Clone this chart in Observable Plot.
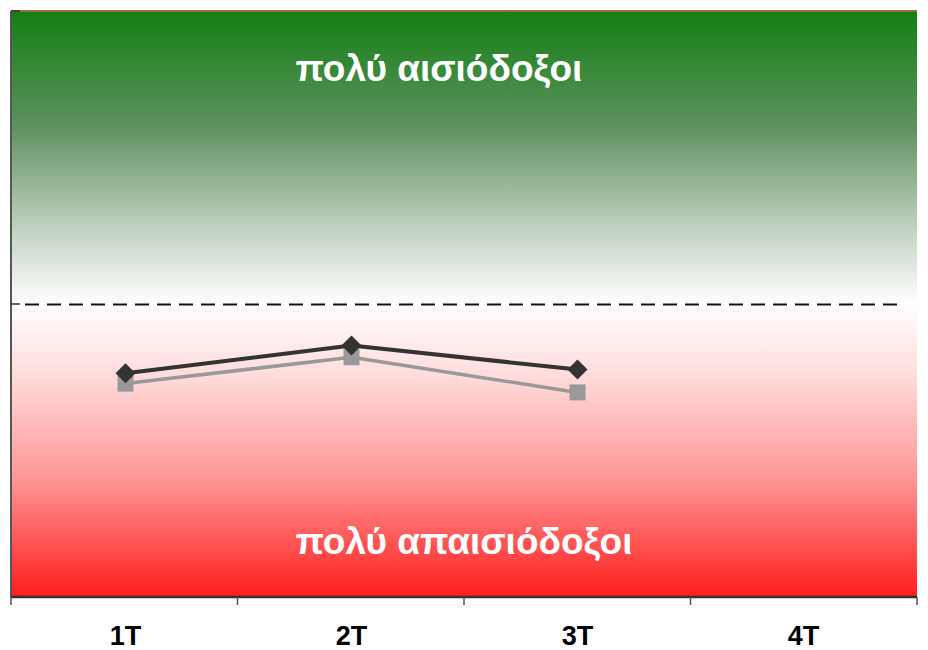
<!DOCTYPE html>
<html>
<head>
<meta charset="utf-8">
<script src="https://cdn.jsdelivr.net/npm/d3@7"></script>
<script src="https://cdn.jsdelivr.net/npm/@observablehq/plot@0.6"></script>
<style>
  html, body { margin: 0; padding: 0; background: #fff; }
  #chart { width: 928px; height: 650px; }
</style>
</head>
<body>
<div id="chart"></div>
<script>
// Categories (quarters)
const quarters = ["1T", "2T", "3T", "4T"];
// Series values (balance index)
const seriesA = [-23.5, -14, -22.2];   // dark line, diamonds
const seriesB = [-27, -18, -30];        // gray line, squares
const yTicks = [-100, 0, 100];
const topLabel = "πολύ αισιόδοξοι";
const bottomLabel = "πολύ απαισιόδοξοι";

const rowsA = seriesA.map((v, i) => ({q: quarters[i], v}));
const rowsB = seriesB.map((v, i) => ({q: quarters[i], v}));

function findArgs(args) {
  const dims = args.find(a => a && typeof a === "object" && a.marginLeft !== undefined && a.width !== undefined);
  const scales = args.find(a => a && typeof a === "object" && typeof a.y === "function");
  return {dims, scales};
}

// Background gradient
function background(...args) {
  const {dims} = findArgs(args);
  const ns = "http://www.w3.org/2000/svg";
  const g = document.createElementNS(ns, "g");
  const defs = document.createElementNS(ns, "defs");
  const lg = document.createElementNS(ns, "linearGradient");
  lg.setAttribute("id", "bgGrad");
  lg.setAttribute("x1", "0"); lg.setAttribute("y1", "0");
  lg.setAttribute("x2", "0"); lg.setAttribute("y2", "1");
  const stops = [
    [0, "#137f13"],
    [0.2, "#5f925f"],
    [0.36, "#bccdbc"],
    [0.5, "#ffffff"],
    [0.62, "#ffdcdc"],
    [0.8, "#ff9595"],
    [1, "#ff1c1c"]
  ];
  for (const [o, c] of stops) {
    const s = document.createElementNS(ns, "stop");
    s.setAttribute("offset", o);
    s.setAttribute("stop-color", c);
    lg.appendChild(s);
  }
  defs.appendChild(lg);
  g.appendChild(defs);
  const r = document.createElementNS(ns, "rect");
  r.setAttribute("x", dims.marginLeft);
  r.setAttribute("y", dims.marginTop);
  r.setAttribute("width", dims.width - dims.marginLeft - dims.marginRight);
  r.setAttribute("height", dims.height - dims.marginTop - dims.marginBottom);
  r.setAttribute("fill", "url(#bgGrad)");
  g.appendChild(r);
  return g;
}

// Axis lines and ticks (band boundaries on x, inward ticks on y)
function axes(...args) {
  const {dims, scales} = findArgs(args);
  const ns = "http://www.w3.org/2000/svg";
  const g = document.createElementNS(ns, "g");
  const x0 = dims.marginLeft, x1 = dims.width - dims.marginRight;
  const yb = dims.height - dims.marginBottom, yt = dims.marginTop;
  const line = (a, b, c, d, stroke, w) => {
    const l = document.createElementNS(ns, "line");
    l.setAttribute("x1", a); l.setAttribute("y1", b);
    l.setAttribute("x2", c); l.setAttribute("y2", d);
    l.setAttribute("stroke", stroke); l.setAttribute("stroke-width", w);
    g.appendChild(l);
  };
  line(x0, yt, x1, yt, "#9b6b3c", 2);
  line(x0, yt, x0, yb, "#555555", 2);
  for (const t of yTicks) {
    const y = scales.y(t);
    line(x0, y, x0 + 9, y, "#333333", 1.5);
  }
  line(x0, yb, x1, yb, "#333333", 2.5);
  const n = quarters.length;
  for (let i = 0; i <= n; i++) {
    const x = x0 + (x1 - x0) * i / n;
    line(x, yb, x, yb + 8, "#555555", 1.5);
  }
  return g;
}

const chart = Plot.plot({
  width: 928,
  height: 650,
  marginLeft: 11,
  marginRight: 11,
  marginTop: 11,
  marginBottom: 53,
  style: {fontFamily: "Liberation Sans, Arial, sans-serif", background: "white"},
  x: {type: "band", domain: quarters, padding: 0, axis: null},
  y: {domain: [-100, 100], axis: null},
  marks: [
    background,
    Plot.ruleY([0], {stroke: "#111", strokeWidth: 2, strokeDasharray: "14,8", insetLeft: 14, insetRight: 20}),
    Plot.line(rowsB, {x: "q", y: "v", stroke: "#999999", strokeWidth: 3.5}),
    Plot.dot(rowsB, {x: "q", y: "v", symbol: "square", r: 9, fill: "#999999", stroke: "none"}),
    Plot.line(rowsA, {x: "q", y: "v", stroke: "#333333", strokeWidth: 4}),
    Plot.dot(rowsA, {x: "q", y: "v", symbol: "diamond2", r: 9, fill: "#333333", stroke: "none"}),
    Plot.text([topLabel], {frameAnchor: "top-left", dx: 284, dy: 69, text: d => d, fill: "white", fontSize: 37, fontWeight: "bold", textAnchor: "start", lineAnchor: "bottom"}),
    Plot.text([bottomLabel], {frameAnchor: "top-left", dx: 284, dy: 542, text: d => d, fill: "white", fontSize: 37, fontWeight: "bold", textAnchor: "start", lineAnchor: "bottom"}),
    Plot.text(quarters, {x: d => d, frameAnchor: "bottom", dy: 39, text: d => d, fill: "#000", fontSize: 27, fontWeight: "bold", lineAnchor: "middle"}),
    axes
  ]
});
document.getElementById("chart").appendChild(chart);
</script>
</body>
</html>
